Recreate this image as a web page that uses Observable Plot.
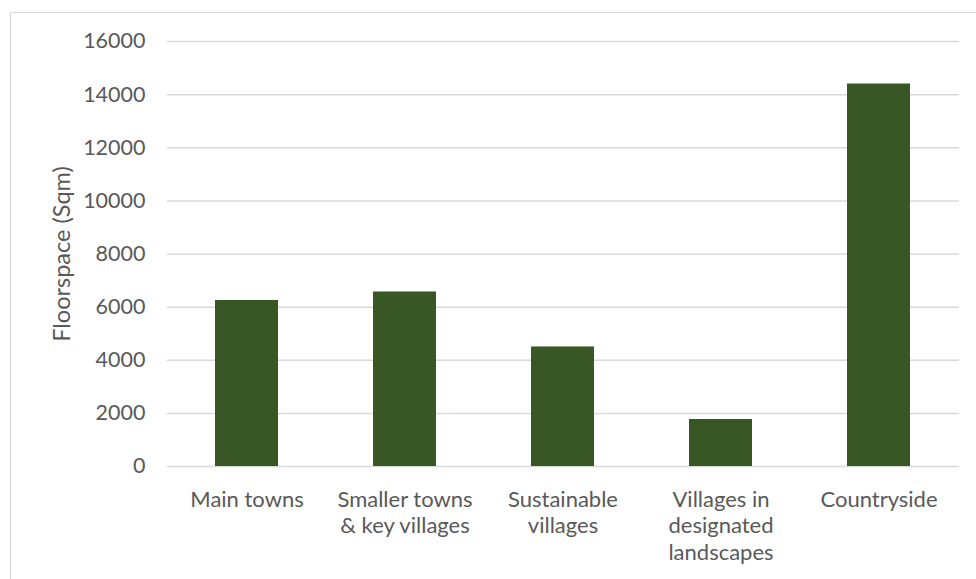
<!DOCTYPE html>
<html>
<head>
<meta charset="utf-8">
<script src="https://cdn.jsdelivr.net/npm/d3@7"></script>
<script src="https://cdn.jsdelivr.net/npm/@observablehq/plot@0.6"></script>
<style>
  html, body { margin: 0; padding: 0; background: #fff; }
  #wrap { position: relative; width: 976px; height: 579px; overflow: hidden; background: #fff; }
  #border { position: absolute; left: 10px; top: 12px; width: 1000px; height: 600px; border-left: 1.5px solid #d9d9d9; border-top: 1.5px solid #d9d9d9; box-sizing: border-box; }
  #chart { position: absolute; left: 0; top: 0; }
</style>
</head>
<body>
<div id="wrap"><div id="border"></div><div id="chart"></div></div>
<script>
const categories = ["Main towns", "Smaller towns & key villages", "Sustainable villages", "Villages in designated landscapes", "Countryside"];
const categoryLabels = ["Main towns", "Smaller towns\n& key villages", "Sustainable\nvillages", "Villages in\ndesignated\nlandscapes", "Countryside"];
const floorspace = [6250, 6570, 4500, 1770, 14400];
const yTicks = [0, 2000, 4000, 6000, 8000, 10000, 12000, 14000, 16000];
const yTitle = "Floorspace (Sqm)";

const data = categories.map((c, i) => ({category: c, value: floorspace[i]}));
const labelOf = new Map(categories.map((c, i) => [c, categoryLabels[i]]));

const chart = Plot.plot({
  width: 976,
  height: 579,
  marginLeft: 167,
  marginRight: 17,
  marginTop: 41,
  marginBottom: 113,
  style: {fontFamily: "Lato, 'Open Sans', sans-serif", background: "transparent", color: "#595959"},
  x: {domain: categories, paddingInner: 0.6, paddingOuter: 0.3, label: null},
  y: {domain: [0, 16000], label: null},
  marks: [
    Plot.gridY(yTicks, {stroke: "#d9d9d9", strokeOpacity: 1, strokeWidth: 1.5}),
    Plot.barY(data, {x: "category", y: "value", fill: "#385724"}),
    Plot.axisY(yTicks, {tickSize: 0, tickPadding: 22, tickFormat: d3.format("d"), fontSize: 21.5, fill: "#595959", label: null}),
    Plot.axisX({tickSize: 0, tickPadding: 21, tickFormat: d => labelOf.get(d), fontSize: 22, fill: "#595959", lineHeight: 1.22, label: null}),
    Plot.text([yTitle], {frameAnchor: "left", textAnchor: "middle", dx: -105, rotate: -90, text: d => d, fontSize: 23.5, fill: "#595959"})
  ]
});
document.getElementById("chart").appendChild(chart);
</script>
</body>
</html>
